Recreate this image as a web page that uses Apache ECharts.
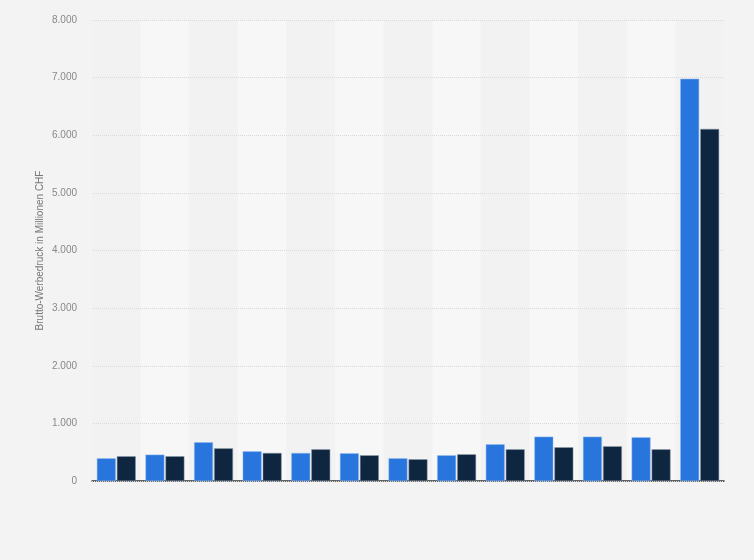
<!DOCTYPE html>
<html>
<head>
    <meta charset="utf-8">
    <script src="https://cdn.jsdelivr.net/npm/echarts@6/dist/echarts.min.js"></script>
    <style>
        html, body { margin: 0; padding: 0; background: #f3f3f3; }
    </style>
</head>
<body>
    <div id="main" style="width: 754px; height: 560px"></div>
    <script type="text/javascript">
        // categories have no visible labels in the picture
        var categories = ['1', '2', '3', '4', '5', '6', '7', '8', '9', '10', '11', '12', '13'];
        var seriesA = [394, 457, 672, 515, 486, 481, 394, 446, 637, 769, 769, 758, 6980];
        var seriesB = [429, 429, 567, 486, 550, 446, 377, 463, 550, 585, 602, 550, 6110];
        var yTicks = [0, 1000, 2000, 3000, 4000, 5000, 6000, 7000, 8000];

        function fmt(v) {
            return String(v).replace(/\B(?=(\d{3})+(?!\d))/g, '.');
        }

        var myChart = echarts.init(document.getElementById('main'));
        var option = {
            backgroundColor: '#f3f3f3',
            animation: false,
            grid: { left: 92, right: 30, top: 20, bottom: 79 },
            xAxis: {
                type: 'category',
                data: categories,
                z: 0,
                axisLine: { lineStyle: { color: '#333', width: 1.5 } },
                axisTick: { show: false },
                axisLabel: { show: false },
                splitArea: { show: true, areaStyle: { color: ['#f2f2f2', '#f7f7f7'] } }
            },
            yAxis: {
                type: 'value',
                z: 1,
                min: yTicks[0],
                max: yTicks[yTicks.length - 1],
                interval: 1000,
                name: 'Brutto-Werbedruck in Millionen CHF',
                nameLocation: 'middle',
                nameGap: 47,
                nameMoveOverlap: false,
                nameTextStyle: { color: '#777', fontSize: 10, fontFamily: 'Arial, Liberation Sans' },
                axisLine: { show: false },
                axisTick: { show: false },
                axisLabel: {
                    color: '#888', fontSize: 10, margin: 15,
                    fontFamily: 'Arial, Liberation Sans',
                    formatter: function (v) { return fmt(v); }
                },
                splitLine: { lineStyle: { color: '#d9d9d9', type: 'dotted' } }
            },
            series: [
                {
                    type: 'bar',
                    data: seriesA,
                    z: 3,
                    barGap: '6%',
                    barCategoryGap: '20%',
                    itemStyle: { color: '#2876dd', borderColor: '#8fb6ec', borderWidth: 0.5 }
                },
                {
                    type: 'bar',
                    data: seriesB,
                    z: 3,
                    itemStyle: { color: '#0f2640', borderColor: '#8a97a6', borderWidth: 0.5 }
                }
            ]
        };
        myChart.setOption(option);
    </script>
</body>
</html>
